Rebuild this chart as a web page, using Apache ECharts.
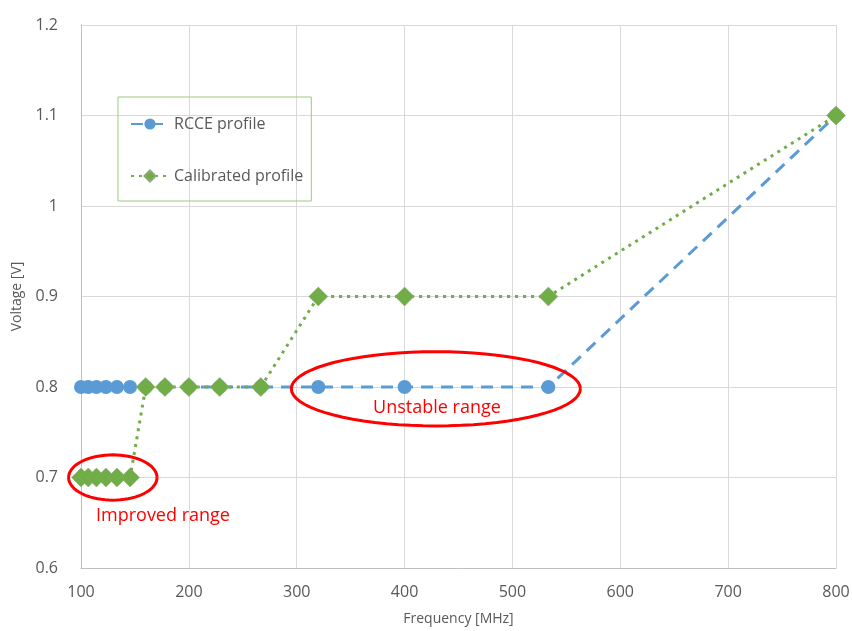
<!DOCTYPE html>
<html>
<head>
<meta charset="utf-8">
<script src="https://cdn.jsdelivr.net/npm/echarts@6/dist/echarts.min.js"></script>
<style>
  html, body { margin: 0; padding: 0; background: #fff; }
  #chart { width: 852px; height: 631px; }
</style>
</head>
<body>
<div id="chart"></div>
<script>
// frequency steps (MHz) and voltages
const rcceFreq = [100, 106.7, 114.3, 123.1, 133.3, 145.5, 160, 177.8, 200, 228.6, 266.7, 320, 400, 533.3, 800];
const rcceVolt = [0.8, 0.8, 0.8, 0.8, 0.8, 0.8, 0.8, 0.8, 0.8, 0.8, 0.8, 0.8, 0.8, 0.8, 1.1];
const calFreq = [100, 106.7, 114.3, 123.1, 133.3, 145.5, 160, 177.8, 200, 228.6, 266.7, 320, 400, 533.3, 800];
const calVolt = [0.7, 0.7, 0.7, 0.7, 0.7, 0.7, 0.8, 0.8, 0.8, 0.8, 0.8, 0.9, 0.9, 0.9, 1.1];

const xTicks = [100, 200, 300, 400, 500, 600, 700, 800];
const yTicks = [0.6, 0.7, 0.8, 0.9, 1, 1.1, 1.2];

// red call-outs, in data units: [centerX, centerY, radiusX, radiusY]
const ellipses = [
  [129.5, 0.7, 41, 0.025],
  [429, 0.798, 134, 0.041],
];
const notes = [
  { text: 'Improved range', at: [176, 0.658] },
  { text: 'Unstable range', at: [430, 0.777] },
];

const font = '"Open Sans", "Liberation Sans", sans-serif';
const colors = {
  blue: '#5b9bd5',
  green: '#70ad47',
  text: '#595959',
  grid: '#d9d9d9',
  red: '#ff0000',
};

const chart = echarts.init(document.getElementById('chart'));

chart.setOption({
  animation: false,
  backgroundColor: '#fff',
  textStyle: { fontFamily: font },
  grid: { left: 81, right: 16, top: 25, bottom: 63, outerBoundsMode: 'none' },
  legend: {
    orient: 'vertical',
    left: 118,
    top: 97,
    padding: [19, 8, 17, 12],
    itemGap: 36,
    itemWidth: 38,
    itemHeight: 14,
    borderColor: '#9cc97f',
    borderWidth: 1,
    textStyle: { color: colors.text, fontSize: 16, fontFamily: font },
    data: ['RCCE profile', 'Calibrated profile'],
  },
  xAxis: {
    type: 'value',
    min: xTicks[0],
    max: xTicks[xTicks.length - 1],
    interval: 100,
    name: 'Frequency [MHz]',
    nameLocation: 'middle',
    nameGap: 44,
    nameTextStyle: { color: colors.text, fontSize: 14 },
    axisLine: { show: true, lineStyle: { color: '#bfbfbf' } },
    axisTick: { show: false },
    axisLabel: { color: colors.text, fontSize: 16, margin: 16 },
    splitLine: { show: true, lineStyle: { color: colors.grid } },
  },
  yAxis: {
    type: 'value',
    min: yTicks[0],
    max: yTicks[yTicks.length - 1],
    interval: 0.1,
    name: 'Voltage [V]',
    nameLocation: 'middle',
    nameGap: 57,
    nameTextStyle: { color: colors.text, fontSize: 14 },
    axisLine: { show: true, lineStyle: { color: '#bfbfbf' } },
    axisTick: { show: false },
    axisLabel: {
      color: colors.text,
      fontSize: 16,
      margin: 23,
      formatter: (v) => String(Math.round(v * 10) / 10),
    },
    splitLine: { show: true, lineStyle: { color: colors.grid } },
  },
  series: [
    {
      name: 'RCCE profile',
      type: 'line',
      data: rcceFreq.map((f, i) => [f, rcceVolt[i]]),
      symbol: 'circle',
      symbolSize: 14,
      lineStyle: { color: colors.blue, width: 3, type: [12, 8] },
      itemStyle: { color: colors.blue },
      z: 2,
    },
    {
      name: 'Calibrated profile',
      type: 'line',
      data: calFreq.map((f, i) => [f, calVolt[i]]),
      symbol: 'diamond',
      symbolSize: 19,
      lineStyle: { color: colors.green, width: 3, type: [3, 5] },
      itemStyle: { color: colors.green, borderColor: '#8fa878', borderWidth: 0.5 },
      z: 3,
    },
  ],
});

function ellipsePoints(e) {
  const pts = [];
  for (let k = 0; k <= 72; k += 1) {
    const a = (k / 72) * Math.PI * 2;
    pts.push(chart.convertToPixel({ gridIndex: 0 }, [e[0] + e[2] * Math.cos(a), e[1] + e[3] * Math.sin(a)]));
  }
  return pts;
}

const graphics = ellipses.map((e) => ({
  type: 'polyline',
  shape: { points: ellipsePoints(e), smooth: 0 },
  style: { stroke: colors.red, lineWidth: 3, fill: null },
  z: 10,
}));

notes.forEach((n) => {
  const p = chart.convertToPixel({ gridIndex: 0 }, n.at);
  graphics.push({
    type: 'text',
    x: p[0],
    y: p[1],
    style: {
      text: n.text,
      fill: colors.red,
      font: '18px ' + font,
      align: 'center',
      verticalAlign: 'middle',
    },
    z: 10,
  });
});

chart.setOption({ graphic: graphics });
</script>
</body>
</html>
